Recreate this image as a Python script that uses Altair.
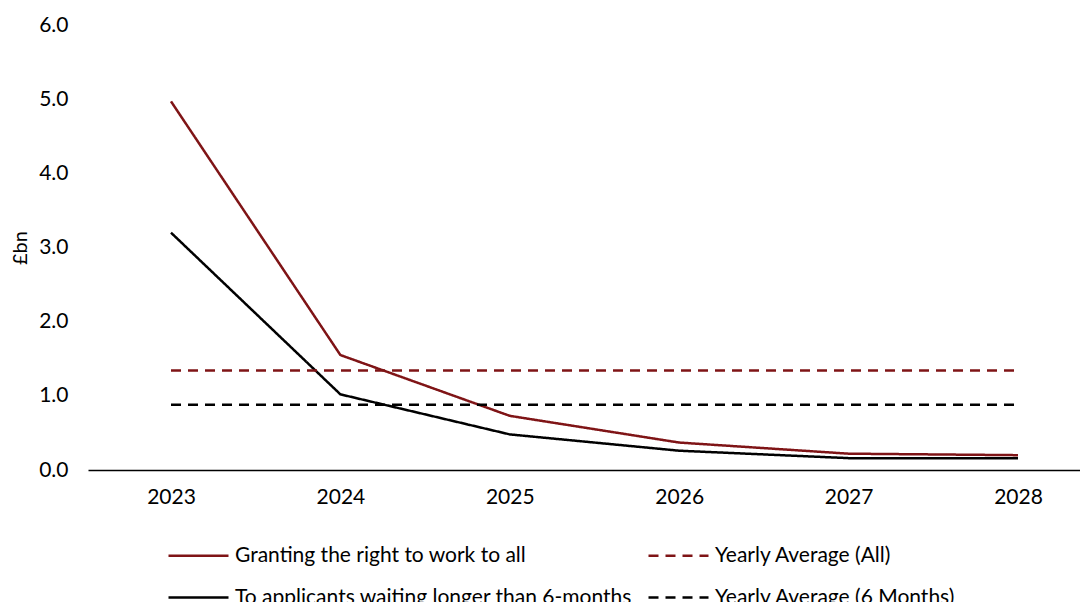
import altair as alt
import pandas as pd

years = [2023, 2024, 2025, 2026, 2027, 2028]
all_values = [4.97, 1.55, 0.73, 0.37, 0.22, 0.20]
six_month_values = [3.20, 1.02, 0.48, 0.26, 0.16, 0.16]
avg_all = 1.34
avg_six_months = 0.88

# legend fills column by column: first column holds the solid lines
series_names = [
    "Granting the right to work to all",
    "To applicants waiting longer than 6-months",
    "Yearly Average (All)",
    "Yearly Average (6 Months)",
]
series_colors = ["#7f1416", "#000000", "#7f1416", "#000000"]
series_dashes = [[1, 0], [1, 0], [10, 7], [10, 7]]

rows = []
for i, y in enumerate(years):
    rows.append({"year": y, "value": all_values[i], "series": series_names[0]})
    rows.append({"year": y, "value": six_month_values[i], "series": series_names[1]})
    rows.append({"year": y, "value": avg_all, "series": series_names[2]})
    rows.append({"year": y, "value": avg_six_months, "series": series_names[3]})
df = pd.DataFrame(rows)

FONT = "Lato"

legend_opts = dict(
    title=None,
    orient="none",
    legendX=79,
    legendY=499,
    columns=2,
    columnPadding=10,
    rowPadding=0,
    symbolType="stroke",
    symbolSize=3600,
    symbolStrokeWidth=2.5,
    labelFont=FONT,
    labelFontSize=21,
    labelColor="#000000",
    labelLimit=600,
    labelOffset=5,
)

chart = (
    alt.Chart(df)
    .mark_line(strokeWidth=2.5)
    .encode(
        x=alt.X(
            "year:Q",
            scale=alt.Scale(domain=[2022.51, 2028.366], nice=False, zero=False),
            axis=alt.Axis(
                values=years,
                format="d",
                title=None,
                grid=False,
                ticks=False,
                domainColor="#000000",
                domainWidth=1.5,
                labelPadding=16,
                labelFontSize=21,
                labelColor="#000000",
                labelFont=FONT,
            ),
        ),
        y=alt.Y(
            "value:Q",
            scale=alt.Scale(domain=[0, 6], nice=False),
            axis=alt.Axis(
                values=[0, 1, 2, 3, 4, 5, 6],
                format=".1f",
                title="£bn",
                titleFont=FONT,
                titleFontSize=20,
                titleFontWeight="normal",
                titleColor="#000000",
                titlePadding=8,
                grid=False,
                ticks=False,
                domain=False,
                labelPadding=20,
                labelFontSize=21,
                labelColor="#000000",
                labelFont=FONT,
            ),
        ),
        color=alt.Color(
            "series:N",
            scale=alt.Scale(domain=series_names, range=series_colors),
            legend=alt.Legend(**legend_opts),
        ),
        strokeDash=alt.StrokeDash(
            "series:N",
            scale=alt.Scale(domain=series_names, range=series_dashes),
            legend=alt.Legend(**legend_opts),
        ),
        order=alt.Order("year:Q"),
    )
    .properties(
        width=992,
        height=445,
        autosize=alt.AutoSizeParams(type="none"),
        padding={"left": 80, "top": 17, "right": 0, "bottom": 132},
    )
    .configure(background="white")
    .configure_view(stroke=None)
)

chart.save("out.html", embed_options={"renderer": "svg", "actions": False})
